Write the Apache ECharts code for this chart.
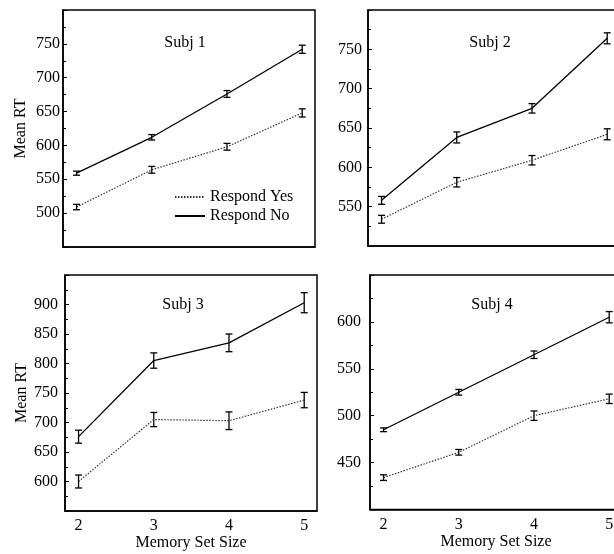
<!DOCTYPE html>
<html>
	<head>
		<meta charset="utf-8">
		<title></title>
		<script src="https://cdn.jsdelivr.net/npm/echarts@6/dist/echarts.min.js"></script>
	</head>
	<body style="margin:0;">
		<div id="my" style="width:614px;height:554px;"></div>

		<script>
			var myChart = echarts.init(document.getElementById('my'));

			var sizes = [2, 3, 4, 5];
			var subjNames = ['Subj 1', 'Subj 2', 'Subj 3', 'Subj 4'];

			// mean RT, respond no / yes, with error bar half widths
			var subj1No = [559, 612, 676, 742];
			var subj1NoErr = [3, 4, 5, 6];
			var subj1Yes = [509, 564, 598, 648];
			var subj1YesErr = [4, 5, 5, 6];

			var subj2No = [558, 638, 675, 764];
			var subj2NoErr = [5, 7, 6, 7];
			var subj2Yes = [534, 581, 609, 642];
			var subj2YesErr = [5, 6, 6, 7];

			var subj3No = [676, 805, 835, 903];
			var subj3NoErr = [11, 13, 15, 17];
			var subj3Yes = [600, 705, 703, 738];
			var subj3YesErr = [11, 12, 15, 13];

			var subj4No = [485, 525, 565, 605];
			var subj4NoErr = [2, 3, 4, 6];
			var subj4Yes = [434, 461, 500, 518];
			var subj4YesErr = [3, 3, 5, 5];

			var yRanges = [[450, 800], [500, 800], [550, 950], [400, 650]];

			var noData = [subj1No, subj2No, subj3No, subj4No];
			var noErr = [subj1NoErr, subj2NoErr, subj3NoErr, subj4NoErr];
			var yesData = [subj1Yes, subj2Yes, subj3Yes, subj4Yes];
			var yesErr = [subj1YesErr, subj2YesErr, subj3YesErr, subj4YesErr];

			var font = 'Liberation Serif';

			// panel boxes: left, top, width, height
			var boxes = [
				[63, 10, 252, 237],
				[368, 10, 252, 236],
				[65, 275, 252, 236],
				[370, 275, 252, 234.5]
			];
			var labelMargins = [3, 6, 7, 9];

			function pts(vals) {
				return sizes.map(function (s, i) { return [s, vals[i]]; });
			}
			function bars(vals, errs) {
				return sizes.map(function (s, i) { return [s, vals[i] - errs[i], vals[i] + errs[i]]; });
			}

			function errRender(params, api) {
				var x = api.value(0);
				var top = api.coord([x, api.value(2)]);
				var bot = api.coord([x, api.value(1)]);
				var w = 3.5;
				var st = { stroke: '#000', lineWidth: 1.3 };
				return {
					type: 'group',
					children: [
						{ type: 'line', shape: { x1: top[0], y1: top[1], x2: bot[0], y2: bot[1] }, style: st },
						{ type: 'line', shape: { x1: top[0] - w, y1: top[1], x2: top[0] + w, y2: top[1] }, style: st },
						{ type: 'line', shape: { x1: bot[0] - w, y1: bot[1], x2: bot[0] + w, y2: bot[1] }, style: st }
					]
				};
			}

			var grids = [], xAxes = [], yAxes = [], titles = [], series = [];

			for (var k = 0; k < 4; k++) {
				var b = boxes[k];
				var bottomRow = k >= 2;
				var leftCol = k % 2 == 0;
				grids.push({
					left: b[0], top: b[1], width: b[2], height: b[3],
					show: true, borderColor: '#000', borderWidth: 1.5,
					containLabel: false, outerBoundsMode: 'none'
				});
				xAxes.push({
					type: 'value', gridIndex: k,
					min: 1.82, max: 5.17,
					splitLine: { show: false },
					axisLine: { lineStyle: { color: '#000', width: 1.5 } },
					axisTick: { show: false },
					axisLabel: {
						show: bottomRow,
						customValues: sizes,
						margin: 7,
						color: '#000', fontFamily: font, fontSize: 16
					},
					name: bottomRow ? 'Memory Set Size' : '',
					nameLocation: 'middle',
					nameGap: 23,
					nameTextStyle: { color: '#000', fontFamily: font, fontSize: 16 }
				});
				yAxes.push({
					type: 'value', gridIndex: k,
					min: yRanges[k][0], max: yRanges[k][1], interval: 50,
					splitLine: { show: false },
					axisLine: { lineStyle: { color: '#000', width: 1.5 } },
					axisTick: { inside: true, length: 4, lineStyle: { color: '#000' } },
					minorTick: { show: true, splitNumber: 2, length: 3, lineStyle: { color: '#000' } },
					axisLabel: {
						showMinLabel: false, showMaxLabel: false,
						margin: labelMargins[k],
						color: '#000', fontFamily: font, fontSize: 16
					},
					name: leftCol ? 'Mean RT' : '',
					nameLocation: 'middle',
					nameGap: 34,
					nameTextStyle: { color: '#000', fontFamily: font, fontSize: 16 }
				});
				titles.push({
					text: subjNames[k],
					left: b[0] + b[2] / 2 - (k == 2 ? 8 : 4),
					top: b[1] + (k >= 2 ? 22 : 25),
					textAlign: 'center',
					padding: 0,
					textStyle: { color: '#000', fontFamily: font, fontSize: 16, fontWeight: 'normal' }
				});
				series.push({
					name: 'Respond No', type: 'line', xAxisIndex: k, yAxisIndex: k,
					data: pts(noData[k]), symbol: 'none',
					lineStyle: { color: '#000', width: 1.3, type: 'solid' },
					itemStyle: { color: '#000' }
				});
				series.push({
					name: 'Respond Yes', type: 'line', xAxisIndex: k, yAxisIndex: k,
					data: pts(yesData[k]), symbol: 'none',
					lineStyle: { color: '#333', width: 1.2, type: [1.5, 1.5] },
					itemStyle: { color: '#333' }
				});
				series.push({
					type: 'custom', xAxisIndex: k, yAxisIndex: k,
					renderItem: errRender, encode: { x: 0, y: [1, 2] },
					data: bars(noData[k], noErr[k]), silent: true
				});
				series.push({
					type: 'custom', xAxisIndex: k, yAxisIndex: k,
					renderItem: errRender, encode: { x: 0, y: [1, 2] },
					data: bars(yesData[k], yesErr[k]), silent: true
				});
			}

			var option = {
				animation: false,
				backgroundColor: '#fff',
				title: titles,
				legend: {
					data: ['Respond Yes', 'Respond No'],
					orient: 'vertical',
					left: 174, top: 189,
					padding: 0,
					itemWidth: 30, itemHeight: 10, itemGap: 3,
					itemStyle: { opacity: 0 },
					textStyle: { color: '#000', fontFamily: font, fontSize: 16 }
				},
				grid: grids,
				xAxis: xAxes,
				yAxis: yAxes,
				series: series
			};

			myChart.setOption(option);
		</script>
	</body>
</html>
